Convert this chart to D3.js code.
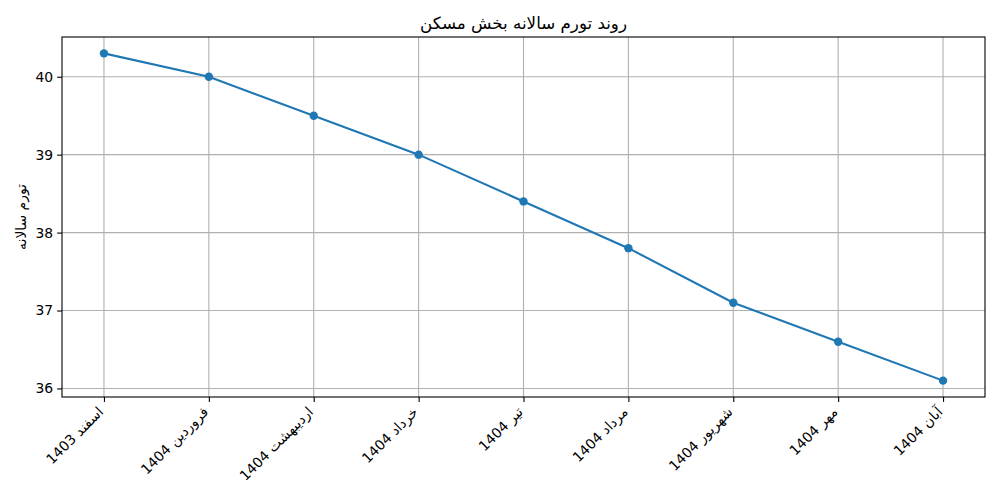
<!DOCTYPE html>
<html lang="fa">
<head>
  <meta charset="UTF-8">
  <title>روند تورم سالانه بخش مسکن</title>
  <script src="https://d3js.org/d3.v7.min.js"></script>
  <style>
    body { margin: 0; background: #fff; font-family: "DejaVu Sans", sans-serif; }
    .axis text { font-family: "DejaVu Sans", sans-serif; font-size: 13.9px; fill: #000; }
    .axis path, .axis line { stroke: #000; stroke-width: 1.1px; }
    .grid line { stroke: #b0b0b0; stroke-width: 1.1px; }
  </style>
</head>
<body>
  <div id="chart"></div>
  <script>
    const months = ["اسفند 1403", "فروردین 1404", "اردیبهشت 1404", "خرداد 1404", "تیر 1404",
                    "مرداد 1404", "شهریور 1404", "مهر 1404", "آبان 1404"];
    const inflation = [40.3, 40.0, 39.5, 39.0, 38.4, 37.8, 37.1, 36.6, 36.1];
    const yTicks = [36, 37, 38, 39, 40];

    const W = 1000, H = 500;
    const margin = {top: 37, right: 15, bottom: 103, left: 62},
          width = W - margin.left - margin.right,
          height = H - margin.top - margin.bottom;

    const svg = d3.select("#chart").append("svg")
                  .attr("width", W).attr("height", H);
    const g = svg.append("g").attr("transform", `translate(${margin.left},${margin.top})`);

    // matplotlib-like 5% margins
    const x = d3.scaleLinear().domain([-0.4, months.length - 1 + 0.4]).range([0, width]);
    const yPad = (d3.max(inflation) - d3.min(inflation)) * 0.05;
    const y = d3.scaleLinear()
                .domain([d3.min(inflation) - yPad, d3.max(inflation) + yPad])
                .range([height, 0]);

    // grid
    g.append("g").attr("class", "grid")
     .selectAll("line.v").data(months).enter().append("line")
     .attr("x1", (d, i) => x(i)).attr("x2", (d, i) => x(i))
     .attr("y1", 0).attr("y2", height);
    g.append("g").attr("class", "grid")
     .selectAll("line.h").data(yTicks).enter().append("line")
     .attr("x1", 0).attr("x2", width)
     .attr("y1", d => y(d)).attr("y2", d => y(d));

    // axes
    const xAxis = g.append("g").attr("class", "axis")
       .attr("transform", `translate(0,${height})`)
       .call(d3.axisBottom(x).tickValues(d3.range(months.length))
               .tickFormat(i => months[i]).tickSize(4.9).tickSizeOuter(0));
    xAxis.select(".domain").remove();
    xAxis.selectAll("text")
         .attr("text-anchor", "end")
         .attr("direction", "ltr")
         .attr("dy", null).attr("y", null)
         .attr("transform", "translate(-3,13) rotate(-45)")
         .attr("dominant-baseline", "middle");

    const yAxis = g.append("g").attr("class", "axis")
       .call(d3.axisLeft(y).tickValues(yTicks).tickFormat(d3.format("d"))
               .tickSize(4.9).tickPadding(4).tickSizeOuter(0));
    yAxis.select(".domain").remove();

    // frame
    g.append("rect").attr("width", width).attr("height", height)
     .attr("fill", "none").attr("stroke", "#000").attr("stroke-width", 1.1);

    // line + markers
    const line = d3.line().x((d, i) => x(i)).y(d => y(d));
    g.append("path").datum(inflation)
     .attr("fill", "none").attr("stroke", "#1f77b4").attr("stroke-width", 2.1)
     .attr("d", line);
    g.selectAll("circle.pt").data(inflation).enter().append("circle")
     .attr("class", "pt")
     .attr("cx", (d, i) => x(i)).attr("cy", d => y(d))
     .attr("r", 4.2).attr("fill", "#1f77b4");

    // title
    svg.append("text")
       .attr("x", margin.left + width / 2).attr("y", 29)
       .attr("text-anchor", "middle")
       .style("font-size", "16.7px")
       .text("روند تورم سالانه بخش مسکن");

    // y label
    svg.append("text")
       .attr("transform", `translate(26,${margin.top + height / 2}) rotate(-90)`)
       .attr("text-anchor", "middle")
       .style("font-size", "13.9px")
       .text("تورم سالانه");
  </script>
</body>
</html>
